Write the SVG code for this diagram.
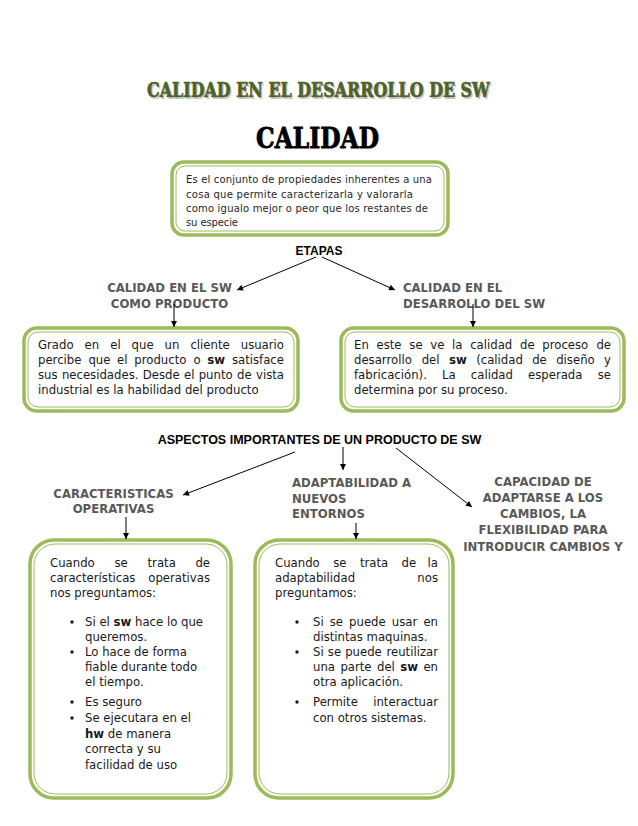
<svg xmlns="http://www.w3.org/2000/svg" width="638" height="826" viewBox="0 0 638 826">
<style>
.title{font-family:"DejaVu Serif","Liberation Serif",serif;font-weight:bold}
.body{font-family:"DejaVu Sans",Verdana,sans-serif;font-size:11.7px;fill:#1a1a1a}
.small{font-family:"DejaVu Sans",Verdana,sans-serif;font-size:10px;fill:#262626}
.lbl{font-family:"DejaVu Sans",Verdana,sans-serif;font-size:11.7px;font-weight:bold;fill:#595959}
.head{font-family:"Liberation Sans",Arial,sans-serif;font-weight:bold;fill:#000}
.b{font-weight:bold}
.outer{fill:#fff;stroke:#9BBB59;stroke-width:3.5}
.inner{fill:none;stroke:#9BBB59;stroke-width:1}
.conn{stroke:#000;stroke-width:1;fill:none;marker-end:url(#ah)}
.e{text-anchor:end}
</style>
<defs>
<marker id="ah" viewBox="0 0 10 10" refX="10" refY="5" markerWidth="7" markerHeight="6" markerUnits="userSpaceOnUse" orient="auto">
<path d="M0,0 L10,5 L0,10 Z" fill="#000"/>
</marker>
</defs>
<rect width="638" height="826" fill="#fff"/>

<g id="title">
<text class="title" x="148.5" y="98.5" font-size="20" textLength="343" lengthAdjust="spacingAndGlyphs" fill="#c8c8c8">CALIDAD EN EL DESARROLLO DE SW</text>
<text class="title" x="147" y="97" font-size="20" textLength="343" lengthAdjust="spacingAndGlyphs" fill="#4F6228" stroke="#4F6228" stroke-width="0.7">CALIDAD EN EL DESARROLLO DE SW</text>
</g>

<g id="calidad">
<text class="title" x="256" y="148" font-size="28" textLength="123" lengthAdjust="spacingAndGlyphs" fill="#000" stroke="#000" stroke-width="0.9">CALIDAD</text>
<rect class="outer" x="172" y="162" width="276" height="73" rx="12"/>
<rect class="inner" x="176" y="166" width="268" height="65" rx="9"/>
<text class="small" x="186" y="183" textLength="246" lengthAdjust="spacing">Es el conjunto de propiedades inherentes a una</text>
<text class="small" x="186" y="198" textLength="227" lengthAdjust="spacing">cosa que permite caracterizarla y valorarla</text>
<text class="small" x="186" y="212" textLength="242" lengthAdjust="spacing">como igualo mejor o peor que los restantes de</text>
<text class="small" x="186" y="226" textLength="52" lengthAdjust="spacing">su especie</text>
</g>

<g id="etapas">
<text class="head" x="319" y="255" font-size="12" text-anchor="middle">ETAPAS</text>
</g>

<g id="calidad-producto">
<text class="lbl" x="169.5" y="291.5" text-anchor="middle">CALIDAD EN EL SW</text>
<text class="lbl" x="169.5" y="307.5" text-anchor="middle">COMO PRODUCTO</text>
</g>

<g id="calidad-desarrollo">
<text class="lbl" x="403" y="291.5">CALIDAD EN EL</text>
<text class="lbl" x="403" y="307.5">DESARROLLO DEL SW</text>
</g>

<g id="box-producto">
<rect class="outer" x="24" y="328" width="274" height="83" rx="13"/>
<rect class="inner" x="28" y="332" width="266" height="75" rx="10"/>
<text class="body" y="349"><tspan x="38">Grado</tspan><tspan x="84.6">en</tspan><tspan x="110.2">el</tspan><tspan x="131.6">que</tspan><tspan x="164.6">un</tspan><tspan x="190.4">cliente</tspan><tspan x="284" class="e">usuario</tspan></text>
<text class="body" y="364"><tspan x="38">percibe</tspan><tspan x="88.4">que</tspan><tspan x="117.1">el</tspan><tspan x="134.3">producto</tspan><tspan x="193.4">o</tspan><tspan x="207.3" class="b">sw</tspan><tspan x="284" class="e">satisface</tspan></text>
<text class="body" y="379"><tspan x="38">sus</tspan><tspan x="61.9">necesidades.</tspan><tspan x="142.8">Desde</tspan><tspan x="184">el</tspan><tspan x="198.7">punto</tspan><tspan x="237">de</tspan><tspan x="284" class="e">vista</tspan></text>
<text class="body" x="38" y="394">industrial es la habilidad del producto</text>
</g>

<g id="box-desarrollo">
<rect class="outer" x="341" y="328" width="283" height="83" rx="13"/>
<rect class="inner" x="345" y="332" width="275" height="75" rx="10"/>
<text class="body" y="349"><tspan x="354">En</tspan><tspan x="376.5">este</tspan><tspan x="409.3">se</tspan><tspan x="430.3">ve</tspan><tspan x="452.1">la</tspan><tspan x="470.2">calidad</tspan><tspan x="520">de</tspan><tspan x="542.3">proceso</tspan><tspan x="611" class="e">de</tspan></text>
<text class="body" y="364"><tspan x="354">desarrollo</tspan><tspan x="421.7">del</tspan><tspan x="449" class="b">sw</tspan><tspan x="476.2">(calidad</tspan><tspan x="532.2">de</tspan><tspan x="556.2">diseño</tspan><tspan x="611" class="e">y</tspan></text>
<text class="body" y="379"><tspan x="354">fabricación).</tspan><tspan x="442">La</tspan><tspan x="470.8">calidad</tspan><tspan x="528">esperada</tspan><tspan x="611" class="e">se</tspan></text>
<text class="body" x="354" y="394">determina por su proceso.</text>
</g>

<g id="aspectos">
<text class="head" x="319.5" y="444" font-size="12.5" text-anchor="middle">ASPECTOS IMPORTANTES DE UN PRODUCTO DE SW</text>
</g>

<g id="caracteristicas">
<text class="lbl" x="113.5" y="497.5" text-anchor="middle">CARACTERISTICAS</text>
<text class="lbl" x="113.5" y="512.5" text-anchor="middle">OPERATIVAS</text>
</g>

<g id="adaptabilidad">
<text class="lbl" x="292" y="486.5">ADAPTABILIDAD A</text>
<text class="lbl" x="292" y="502.5">NUEVOS</text>
<text class="lbl" x="292" y="518">ENTORNOS</text>
</g>

<g id="capacidad">
<text class="lbl" x="543" y="486" text-anchor="middle">CAPACIDAD DE</text>
<text class="lbl" x="543" y="501.5" text-anchor="middle">ADAPTARSE A LOS</text>
<text class="lbl" x="543" y="517.5" text-anchor="middle">CAMBIOS, LA</text>
<text class="lbl" x="543" y="534" text-anchor="middle">FLEXIBILIDAD PARA</text>
<text class="lbl" x="543" y="550.5" text-anchor="middle">INTRODUCIR CAMBIOS Y</text>
</g>

<g id="box-operativas">
<rect class="outer" x="30" y="540" width="201" height="258" rx="24"/>
<rect class="inner" x="34" y="544" width="193" height="250" rx="21"/>
<text class="body" y="567"><tspan x="50">Cuando</tspan><tspan x="114.5">se</tspan><tspan x="147.5">trata</tspan><tspan x="210" class="e">de</tspan></text>
<text class="body" y="582"><tspan x="50">características</tspan><tspan x="210" class="e">operativas</tspan></text>
<text class="body" x="50" y="597">nos preguntamos:</text>
<g fill="#1a1a1a">
<circle cx="72" cy="622" r="1.7"/>
<circle cx="72" cy="652" r="1.7"/>
<circle cx="72" cy="702" r="1.7"/>
<circle cx="72" cy="718" r="1.7"/>
</g>
<text class="body" x="85" y="626">Si el <tspan class="b">sw</tspan> hace lo que</text>
<text class="body" x="85" y="641">queremos.</text>
<text class="body" x="85" y="656">Lo hace de forma</text>
<text class="body" x="85" y="671">fiable durante todo</text>
<text class="body" x="85" y="686">el tiempo.</text>
<text class="body" x="85" y="706">Es seguro</text>
<text class="body" x="85" y="722">Se ejecutara en el</text>
<text class="body" x="85" y="738"><tspan class="b">hw</tspan> de manera</text>
<text class="body" x="85" y="753">correcta y su</text>
<text class="body" x="85" y="769">facilidad de uso</text>
</g>

<g id="box-adaptabilidad">
<rect class="outer" x="255" y="540" width="198" height="258" rx="24"/>
<rect class="inner" x="259" y="544" width="190" height="250" rx="21"/>
<text class="body" y="567"><tspan x="275">Cuando</tspan><tspan x="333.2">se</tspan><tspan x="359.9">trata</tspan><tspan x="401.6">de</tspan><tspan x="438" class="e">la</tspan></text>
<text class="body" y="582"><tspan x="275">adaptabilidad</tspan><tspan x="438" class="e">nos</tspan></text>
<text class="body" x="275" y="597">preguntamos:</text>
<g fill="#1a1a1a">
<circle cx="297" cy="622" r="1.7"/>
<circle cx="297" cy="652" r="1.7"/>
<circle cx="297" cy="702" r="1.7"/>
</g>
<text class="body" y="626"><tspan x="313">Si</tspan><tspan x="329.7">se</tspan><tspan x="349.1">puede</tspan><tspan x="391.8">usar</tspan><tspan x="438" class="e">en</tspan></text>
<text class="body" x="313" y="641">distintas maquinas.</text>
<text class="body" y="656"><tspan x="313">Si</tspan><tspan x="327.8">se</tspan><tspan x="345.2">puede</tspan><tspan x="438" class="e">reutilizar</tspan></text>
<text class="body" y="671"><tspan x="313">una</tspan><tspan x="340.4">parte</tspan><tspan x="377">del</tspan><tspan x="400.3" class="b">sw</tspan><tspan x="438" class="e">en</tspan></text>
<text class="body" x="313" y="686">otra aplicación.</text>
<text class="body" y="706"><tspan x="313">Permite</tspan><tspan x="438" class="e">interactuar</tspan></text>
<text class="body" x="313" y="722">con otros sistemas.</text>
</g>

<g id="connectors">
<line class="conn" x1="316" y1="257" x2="237" y2="290"/>
<line class="conn" x1="322" y1="257" x2="395" y2="290"/>
<line class="conn" x1="174" y1="304" x2="174" y2="327"/>
<line class="conn" x1="473" y1="304" x2="473" y2="327"/>
<line class="conn" x1="295" y1="452" x2="183" y2="495"/>
<line class="conn" x1="343" y1="447" x2="343" y2="470"/>
<line class="conn" x1="396" y1="448" x2="472" y2="507"/>
<line class="conn" x1="126" y1="517" x2="126" y2="539"/>
<line class="conn" x1="356" y1="523" x2="356" y2="539"/>
</g>
</svg>
